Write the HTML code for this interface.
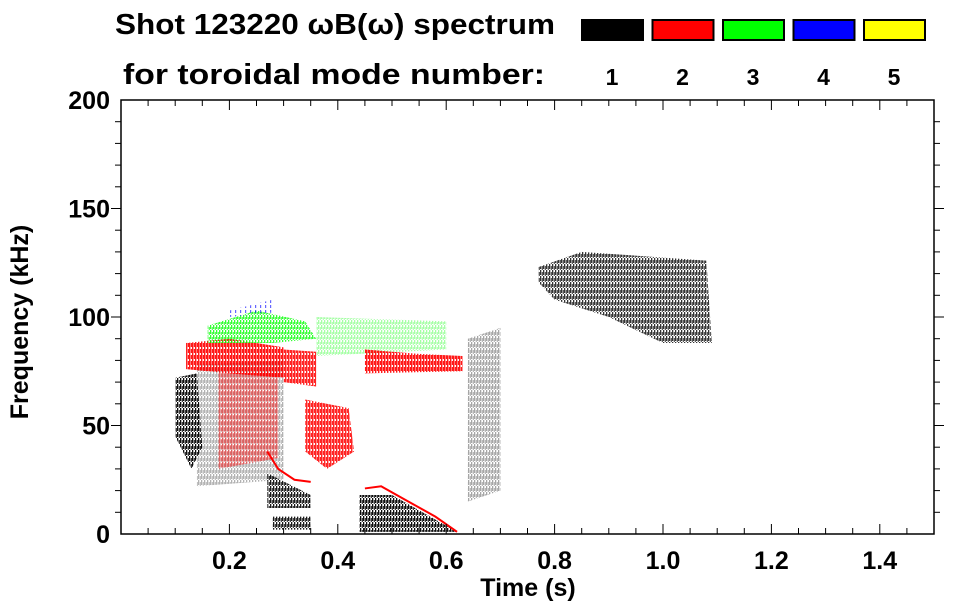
<!DOCTYPE html>
<html><head><meta charset="utf-8"><style>
body{margin:0;background:#fff;}
svg{display:block;font-family:"Liberation Sans",sans-serif;font-weight:bold;}
</style></head><body>
<svg id="chart" width="963" height="615" viewBox="0 0 963 615">
<defs>
<pattern id="pk" width="3" height="6" patternUnits="userSpaceOnUse"><rect x="0" y="0" width="1.3" height="5" fill="#000"/><rect x="1.8" y="2" width="1" height="4" fill="#000"/></pattern>
<pattern id="pr" width="3" height="6" patternUnits="userSpaceOnUse"><rect x="0" y="0" width="1.4" height="6" fill="#f00"/><rect x="1.8" y="1" width="1.2" height="4" fill="#f00"/></pattern>
<pattern id="pg" width="3" height="5" patternUnits="userSpaceOnUse"><rect x="0" y="0" width="1.3" height="4" fill="#0f0"/><rect x="1.8" y="2" width="1" height="3" fill="#0f0"/></pattern>
<pattern id="pb" width="5" height="5" patternUnits="userSpaceOnUse"><rect x="0" y="0" width="1.2" height="3" fill="#00f"/></pattern>
</defs>
<g id="marks"></g>
<g id="axes"></g>
<text x="115" y="34" font-size="29" textLength="440" lengthAdjust="spacingAndGlyphs">Shot 123220 ωB(ω) spectrum</text>
<text x="123" y="84" font-size="29" textLength="422" lengthAdjust="spacingAndGlyphs">for toroidal mode number:</text>
<g id="legend"></g>
<text x="28" y="322" font-size="25" transform="rotate(-90 28 322)" text-anchor="middle" dy="0">Frequency (kHz)</text>
<text x="528" y="596" font-size="25" text-anchor="middle">Time (s)</text>
</svg>
<script>
const xTicks=[0.2,0.4,0.6,0.8,1.0,1.2,1.4];
const xTickLabels=["0.2","0.4","0.6","0.8","1.0","1.2","1.4"];
const yTicks=[0,50,100,150,200];
const yTickLabels=["0","50","100","150","200"];
const modeNumbers=["1","2","3","4","5"];
const modeColors=["#000000","#ff0000","#00ff00","#0000ff","#ffff00"];
// regions: polygons of [time, freq] vertices
const regionNames=["n1-early","n1-scatter","n2-band","n2-streaks","n3-band","n3-late","n2-mid","n2-drop","n2-late","n1-low-a","n1-low-b","n1-low-c","n1-high","n4-spots","n1-streaks"];
const regionModes=[1,1,2,2,3,3,2,2,2,1,1,1,1,4,1];
const regionOpacity=[0.95,0.3,0.9,0.45,0.8,0.35,0.85,0.85,0.9,0.9,0.9,0.95,0.8,0.6,0.35];
const regionPts=[
 [[0.1,72],[0.14,74],[0.15,40],[0.13,30],[0.1,45]],
 [[0.14,78],[0.3,80],[0.3,25],[0.14,22]],
 [[0.12,88],[0.2,90],[0.3,86],[0.3,72],[0.2,74],[0.12,76]],
 [[0.18,75],[0.29,75],[0.29,35],[0.18,30]],
 [[0.16,96],[0.25,103],[0.34,98],[0.36,90],[0.28,88],[0.2,88],[0.16,88]],
 [[0.36,100],[0.6,98],[0.6,85],[0.36,82]],
 [[0.3,85],[0.36,84],[0.36,68],[0.3,70]],
 [[0.34,62],[0.42,58],[0.43,38],[0.38,30],[0.34,38]],
 [[0.45,85],[0.55,83],[0.63,82],[0.63,75],[0.45,74]],
 [[0.27,28],[0.35,18],[0.35,12],[0.27,12]],
 [[0.28,8],[0.35,8],[0.35,2],[0.28,2]],
 [[0.44,18],[0.5,18],[0.62,1],[0.44,1]],
 [[0.77,123],[0.85,130],[1.08,126],[1.09,88],[1.0,88],[0.9,100],[0.8,108],[0.77,116]],
 [[0.2,103],[0.28,108],[0.28,102],[0.2,100]],
 [[0.64,90],[0.7,95],[0.7,20],[0.64,15]]
];
const lineNames=["n2-chirp-a","n2-chirp-b"];
const linePts=[
 [[0.27,38],[0.29,30],[0.32,25],[0.35,24]],
 [[0.45,21],[0.48,22],[0.53,15],[0.58,8],[0.62,1]]
];
const X0=121,X1=934,Y0=534,Y1=100;
const xs=t=>X0+(t-0)/(1.5-0)*(X1-X0);
const ys=f=>Y0-(f-0)/(200-0)*(Y0-Y1);
const NS="http://www.w3.org/2000/svg";
const pats=["pk","pr","pg","pb","pb"];
const marks=document.getElementById('marks');
regionPts.forEach((pts,i)=>{
 const p=document.createElementNS(NS,'polygon');
 p.setAttribute('points',pts.map(v=>xs(v[0])+','+ys(v[1])).join(' '));
 p.setAttribute('fill','url(#'+pats[regionModes[i]-1]+')');
 p.setAttribute('opacity',regionOpacity[i]);
 
 
 marks.appendChild(p);
});
linePts.forEach((pts,i)=>{
 const p=document.createElementNS(NS,'polyline');
 p.setAttribute('points',pts.map(v=>xs(v[0])+','+ys(v[1])).join(' '));
 p.setAttribute('fill','none');p.setAttribute('stroke','#f00');p.setAttribute('stroke-width','2');
 
 
 marks.appendChild(p);
});
const ax=document.getElementById('axes');
let h=`<rect x="${X0}" y="${Y1}" width="${X1-X0}" height="${Y0-Y1}" fill="none" stroke="#000" stroke-width="1.5"/>`;
for(let t=0.05;t<1.5;t+=0.05){const x=xs(t),big=Math.abs(t/0.2-Math.round(t/0.2))<0.01;const L=big?10:6;
 h+=`<line x1="${x}" y1="${Y0}" x2="${x}" y2="${Y0-L}" stroke="#000"/><line x1="${x}" y1="${Y1}" x2="${x}" y2="${Y1+L}" stroke="#000"/>`;}
for(let f=10;f<200;f+=10){const y=ys(f),big=f%50===0;const L=big?10:6;
 h+=`<line x1="${X0}" y1="${y}" x2="${X0-L}" y2="${y}" stroke="#000"/><line x1="${X1}" y1="${y}" x2="${X1+L}" y2="${y}" stroke="#000"/>`;}
xTicks.forEach((t,i)=>{h+=`<text x="${xs(t)}" y="569" font-size="25" text-anchor="middle">${xTickLabels[i]}</text>`;});
yTicks.forEach((f,i)=>{h+=`<text x="${X0-11}" y="${ys(f)+9}" font-size="25" text-anchor="end">${yTickLabels[i]}</text>`;});
ax.innerHTML=h;
const lg=document.getElementById('legend');
let g='';
modeNumbers.forEach((m,i)=>{const x=582+i*70.5;
 g+=`<rect x="${x}" y="20" width="61" height="20" fill="${modeColors[i]}" stroke="#000" stroke-width="2"/>`;
 g+=`<text x="${x+30}" y="85" font-size="23" text-anchor="middle">${m}</text>`;});
lg.innerHTML=g;
</script>
</body></html>
